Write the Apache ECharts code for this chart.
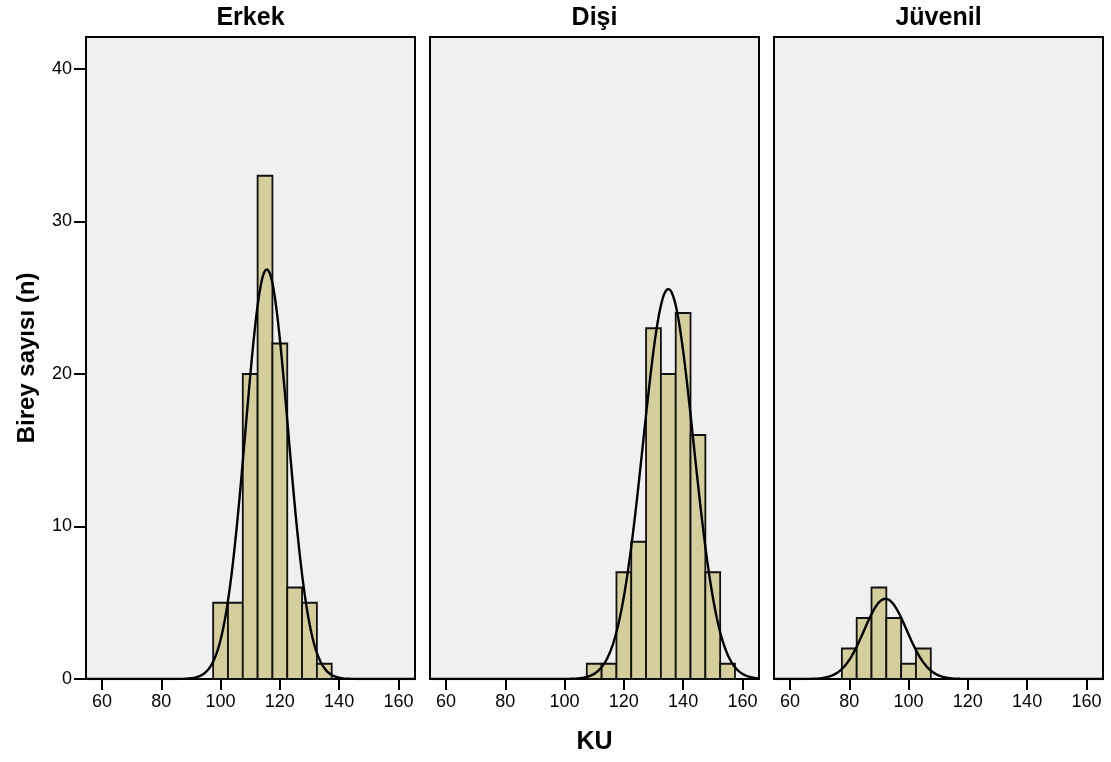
<!DOCTYPE html>
<html>
<head>
<meta charset="utf-8">
<script src="https://cdn.jsdelivr.net/npm/echarts@6/dist/echarts.min.js"></script>
<style>
  html, body { margin: 0; padding: 0; background: #ffffff; }
  #chart { width: 1111px; height: 762px; }
</style>
</head>
<body>
<div id="chart"></div>
<script>
// Panel titles (groups)
const groupNames = ['Erkek', 'Dişi', 'Jüvenil'];

// Histogram counts per 5-unit KU bin, starting at the given lower bin edge
const binWidth = 5;
const erkekBinFrom = 97.5;
const erkekCounts = [5, 5, 20, 33, 22, 6, 5, 1];
const disiBinFrom = 107.5;
const disiCounts = [1, 1, 7, 9, 23, 20, 24, 16, 7, 1];
const juvenilBinFrom = 77.5;
const juvenilCounts = [2, 4, 6, 4, 1, 2];

// Fitted normal curve parameters (mean, standard deviation) per group
const fitMeans = [115.6, 135.0, 92.2];
const fitSDs = [7.2, 8.5, 7.2];

// Axis ticks
const xTicks = [60, 80, 100, 120, 140, 160];
const yTicks = [0, 10, 20, 30, 40];

const binFroms = [erkekBinFrom, disiBinFrom, juvenilBinFrom];
const countSets = [erkekCounts, disiCounts, juvenilCounts];

const X_MIN = 54.6, X_MAX = 165.6, Y_MAX = 42.1;
const panelLefts = [86, 430, 774];
const panelWidth = 329;
const panelTop = 37;
const panelHeight = 642;

const FONT = 'Liberation Sans, Arial, sans-serif';

function histData(from, counts) {
  return counts.map((c, i) => [from + i * binWidth, from + (i + 1) * binWidth, c]);
}

function normalCurve(mean, sd, n) {
  const pts = [];
  const scale = n * binWidth / (sd * Math.sqrt(2 * Math.PI));
  for (let x = X_MIN; x <= X_MAX + 1e-9; x += 0.25) {
    const z = (x - mean) / sd;
    pts.push([x, scale * Math.exp(-0.5 * z * z)]);
  }
  return pts;
}

const grids = [], xAxes = [], yAxes = [], series = [], graphics = [];

groupNames.forEach((name, i) => {
  grids.push({
    left: panelLefts[i], top: panelTop, width: panelWidth, height: panelHeight,
    show: true, backgroundColor: '#F0F0F0', borderColor: '#000', borderWidth: 2
  });
  xAxes.push({
    gridIndex: i, type: 'value', min: X_MIN, max: X_MAX,
    axisLine: { show: true, lineStyle: { color: '#000', width: 2 } },
    axisTick: { show: true, customValues: xTicks, length: 11, lineStyle: { color: '#000', width: 2 } },
    axisLabel: { customValues: xTicks, color: '#000', fontSize: 18, fontFamily: FONT, margin: 14 },
    splitLine: { show: false }
  });
  yAxes.push({
    gridIndex: i, type: 'value', min: 0, max: Y_MAX,
    axisLine: { show: true, lineStyle: { color: '#000', width: 2 } },
    axisTick: { show: i === 0, customValues: yTicks, length: 12, lineStyle: { color: '#000', width: 2 } },
    axisLabel: { show: i === 0, customValues: yTicks, color: '#000', fontSize: 18, fontFamily: FONT, margin: 14 },
    splitLine: { show: false }
  });

  const counts = countSets[i];
  const total = counts.reduce((a, b) => a + b, 0);

  series.push({
    type: 'custom',
    xAxisIndex: i, yAxisIndex: i,
    data: histData(binFroms[i], counts),
    encode: { x: [0, 1], y: 2 },
    renderItem: function (params, api) {
      const top = api.coord([api.value(0), api.value(2)]);
      const bottom = api.coord([api.value(1), 0]);
      return {
        type: 'rect',
        shape: { x: top[0], y: top[1], width: bottom[0] - top[0], height: bottom[1] - top[1] },
        style: { fill: '#D3CE9C', stroke: '#111', lineWidth: 1.8 }
      };
    },
    z: 2
  });

  series.push({
    type: 'line',
    xAxisIndex: i, yAxisIndex: i,
    data: normalCurve(fitMeans[i], fitSDs[i], total),
    showSymbol: false,
    smooth: false,
    lineStyle: { color: '#000', width: 2.4 },
    clip: true,
    z: 3
  });

  graphics.push({
    type: 'text',
    x: panelLefts[i] + panelWidth / 2, y: 18,
    style: {
      text: name, fill: '#000', font: 'bold 25px ' + FONT,
      textAlign: 'center', textVerticalAlign: 'middle'
    }
  });
});

// Axis titles
graphics.push({
  type: 'text',
  x: 27, y: 358, rotation: Math.PI / 2,
  style: {
    text: 'Birey sayısı (n)', fill: '#000', font: 'bold 24px ' + FONT,
    textAlign: 'center', textVerticalAlign: 'middle'
  }
});
graphics.push({
  type: 'text',
  x: panelLefts[1] + panelWidth / 2, y: 742,
  style: {
    text: 'KU', fill: '#000', font: 'bold 25px ' + FONT,
    textAlign: 'center', textVerticalAlign: 'middle'
  }
});

const chart = echarts.init(document.getElementById('chart'), null, { renderer: 'canvas' });
chart.setOption({
  backgroundColor: '#ffffff',
  animation: false,
  grid: grids,
  xAxis: xAxes,
  yAxis: yAxes,
  series: series,
  graphic: graphics
});
</script>
</body>
</html>
